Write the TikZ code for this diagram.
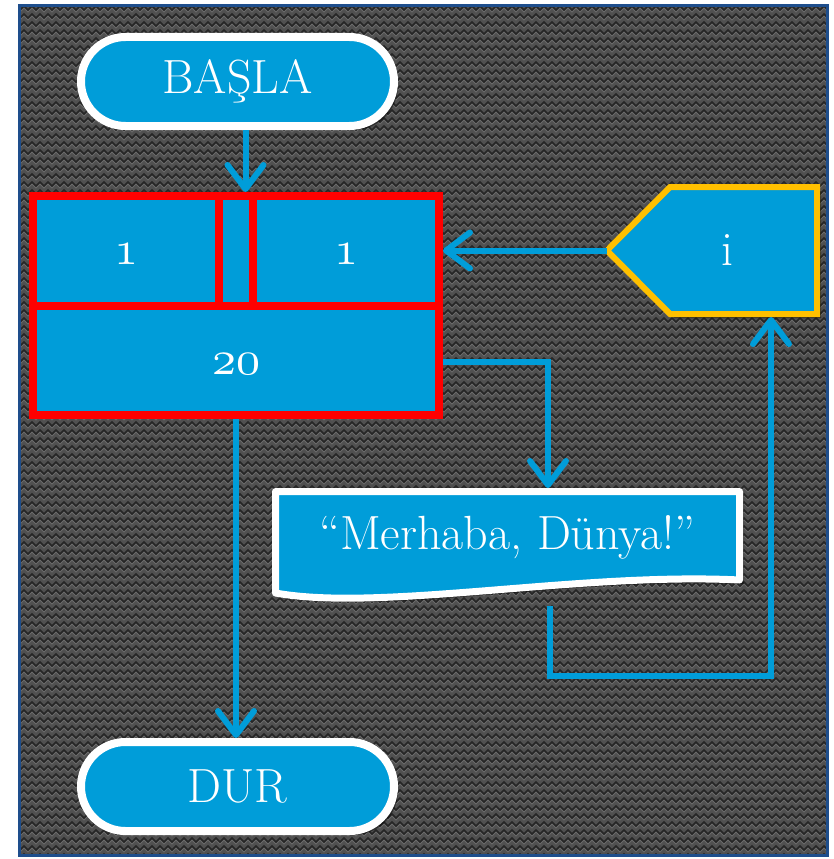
\documentclass[tikz,border=0pt]{standalone}
\usepackage{fontspec}
\usetikzlibrary{shapes.misc,arrows.meta,shadows,decorations.pathmorphing}

\definecolor{flow}{RGB}{0,157,217}
\definecolor{loopred}{RGB}{255,0,0}
\definecolor{gold}{RGB}{255,192,0}
\definecolor{framecol}{RGB}{30,78,140}
\definecolor{bgbase}{RGB}{80,80,80}
\definecolor{bgdark}{RGB}{38,38,38}
\definecolor{bglight}{RGB}{108,108,108}

% old-style figures from math italic, declared freely scalable
\DeclareFontFamily{OML}{osfig}{\skewchar\font127}
\DeclareFontShape{OML}{osfig}{m}{it}{<-> cmmi10}{}
\newcommand{\osnum}[1]{{\usefont{OML}{osfig}{m}{it}#1}}

\tikzset{
  shade/.style={drop shadow={shadow xshift=4pt, shadow yshift=-4pt, opacity=.45, fill=black}},
  bigtext/.style={text=white, font=\fontsize{48}{52}\selectfont},
  term/.style={rounded rectangle, fill=flow, draw=white, line width=8pt,
    minimum width=313pt, minimum height=89pt, inner sep=0pt, bigtext, shade},
  loopbox/.style={rectangle, fill=flow, draw=loopred, line width=8pt,
    minimum width=406pt, minimum height=219pt, inner sep=0pt, shade},
  divider/.style={draw=loopred, line width=8pt},
  frame/.style={rectangle, inner sep=0pt, outer sep=0pt},
  hexline/.style={fill=flow, draw=gold, line width=6pt, line join=miter, shade},
  docline/.style={fill=flow, draw=white, line width=7pt, line join=round, shade},
  arr/.style={draw=flow, line width=6pt,
    -{Straight Barb[length=24pt, width=36pt, round]}},
  zig/.style={decorate, decoration={zigzag, segment length=8pt, amplitude=2pt}},
}

\begin{document}
\begin{tikzpicture}[x=1pt, y=-1pt]
  \useasboundingbox (0,0) rectangle (833,859);
  \fill[white] (0,0) rectangle (833,859);

  % textured panel
  \fill[bgbase] (19.5,5.5) rectangle (827.5,855.5);
  \begin{scope}
    \clip (19.5,5.5) rectangle (827.5,855.5);
    \foreach \yy in {8,16,...,856} {
      \draw[zig, bglight, line width=0.8pt] (14,\yy+2) -- (834,\yy+2);
      \draw[zig, bgdark, line width=1.6pt] (14,\yy) -- (834,\yy);
    }
  \end{scope}
  \draw[framecol, line width=3pt] (19.5,5.5) rectangle (827.5,855.5);

  % terminals
  \node[term] (start) at (237.5,81.5) {BAŞLA};
  \node[term] (stop) at (237.5,786.5) {DUR};

  % loop block
  \node[loopbox] (loop) at (236,305.5) {};
  \draw[divider] (loop.west) -- (loop.east);
  \draw[divider] ([xshift=-17pt]loop.north) -- ([xshift=-17pt]loop.center);
  \draw[divider] ([xshift=17pt]loop.north) -- ([xshift=17pt]loop.center);
  \node[bigtext] (init) at (126,254) {\osnum{1}};
  \node[bigtext] (step) at (346,254) {\osnum{1}};
  \node[bigtext] (limit) at (236,364) {\osnum{20}};

  % input (display) block
  \node[frame, minimum width=180pt, minimum height=127pt] (inp) at (727,250.5) {};
  \coordinate (inptip) at ([xshift=-30pt]inp.west);
  \draw[hexline] (inptip) -- ([xshift=-147pt]inp.north east) -- (inp.north east)
    -- (inp.south east) -- ([xshift=-147pt]inp.south east) -- cycle;
  \node[bigtext] (ivar) at (inp.center) {i};

  % output document
  \node[frame, minimum width=464pt, minimum height=101.5pt] (doc) at (507.5,542.25) {};
  \draw[docline] (doc.south west) -- (doc.north west) -- (doc.north east)
    -- ([yshift=13pt]doc.south east) .. controls (580,572) and (380,612) .. (doc.south west) -- cycle;
  \node[bigtext] (msg) at (507.5,537) {“Merhaba, Dünya!”};

  % connectors
  \draw[arr] ([xshift=8pt]start.south) -- ([xshift=8pt]start.south |- loop.north);
  \draw[arr] (inptip) -- (inptip -| loop.east);
  \draw[arr] ([yshift=-56.5pt]loop.east) -| ([xshift=40.5pt,yshift=3.5pt]doc.north);
  \coordinate (docout) at ([xshift=42.5pt,yshift=-13pt]doc.south);
  \draw[arr] (docout) -- ++(0,70) -| ([xshift=44pt,yshift=-3pt]inp.south);
  \draw[arr] (loop.south) -- (loop.south |- stop.north);
\end{tikzpicture}
\end{document}
